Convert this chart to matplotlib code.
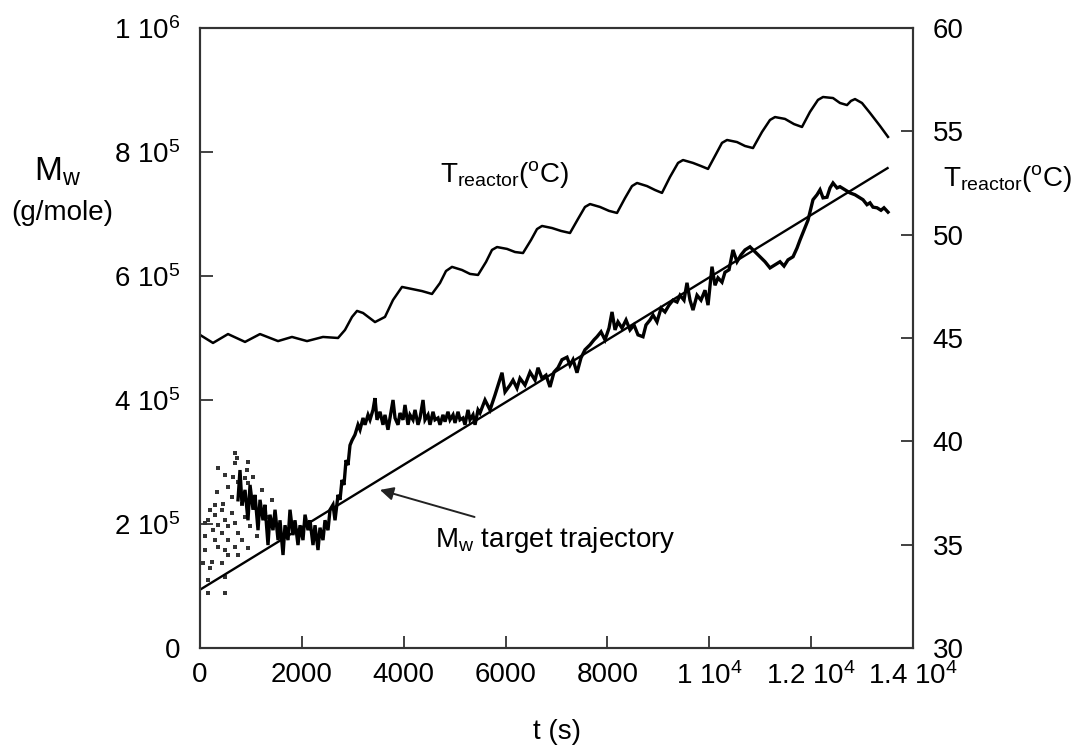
import numpy as np
import matplotlib
matplotlib.use('Agg')
import matplotlib.pyplot as plt

plt.rcParams['font.family'] = ['Liberation Sans Narrow', 'Liberation Sans', 'DejaVu Sans']
plt.rcParams['mathtext.default'] = 'regular'

#Reactor temperature (right axis), t in s and T in degC
temp_t = [0, 255, 550, 884, 1178, 1532, 1806, 2101, 2415, 2710, 2847, 2985, 3083, 3201, 3436,
          3632, 3790, 3966, 4163, 4359, 4555, 4712, 4830, 4948, 5144, 5301, 5459,
          5616, 5733, 5832, 6028, 6185, 6342, 6499, 6617, 6715, 6912, 7088, 7265,
          7422, 7559, 7658, 7854, 8031, 8188, 8345, 8482, 8581, 8777, 8934, 9071,
          9228, 9386, 9484, 9680, 9837, 9975, 10132, 10249, 10348, 10544, 10701, 10858,
          11035, 11192, 11290, 11486, 11663, 11820, 11977, 12134, 12233, 12429, 12566, 12704,
          12782, 12861, 12998, 13155, 13352, 13509]
temp_c = [45.15, 44.76, 45.19, 44.81, 45.19, 44.85, 45.05, 44.85, 45.05, 45.00, 45.39, 46.02, 46.31, 46.21, 45.77,
          46.02, 46.84, 47.47, 47.37, 47.27, 47.13, 47.66, 48.24, 48.44, 48.29, 48.10, 48.05,
          48.68, 49.26, 49.40, 49.31, 49.16, 49.11, 49.74, 50.27, 50.42, 50.32, 50.18, 50.08,
          50.76, 51.34, 51.48, 51.34, 51.15, 51.05, 51.77, 52.35, 52.50, 52.35, 52.16, 52.02,
          52.79, 53.47, 53.61, 53.47, 53.32, 53.18, 53.90, 54.44, 54.58, 54.48, 54.29, 54.19,
          54.97, 55.55, 55.69, 55.60, 55.35, 55.21, 55.94, 56.52, 56.66, 56.61, 56.37, 56.27,
          56.47, 56.56, 56.37, 55.89, 55.26, 54.73]

#Target Mw trajectory (straight line)
target_t = [0, 13500]
target_mw = [0.94e5, 7.74e5]

#Measured Mw (units of 1e5 g/mole)
mw_t = [746, 785, 825, 884, 942, 982, 1041, 1080, 1139, 1178, 1237, 1276, 1335, 1374, 1433, 1473,
        1532, 1571, 1630, 1669, 1728, 1767, 1826, 1865, 1924, 1964, 2022, 2062, 2121, 2160,
        2219, 2258, 2317, 2356, 2415, 2454, 2513, 2553,
        2611, 2651, 2710, 2749, 2788, 2827, 2867, 2906, 2945, 2985, 3043, 3102, 3142, 3201,
        3240, 3299, 3338, 3397, 3436, 3475, 3534, 3593, 3632, 3691, 3731, 3790, 3829, 3888,
        3927, 3986, 4025, 4084, 4123, 4182, 4222, 4280, 4320, 4379, 4418, 4477, 4516, 4575,
        4614, 4673, 4712, 4771, 4811, 4869, 4909, 4968, 5007, 5066, 5105, 5164, 5203, 5262,
        5301, 5360, 5400, 5459, 5498,
        5596, 5694, 5792, 5930, 5989, 6087, 6146, 6224, 6283, 6381, 6480, 6578, 6637, 6715,
        6794, 6872, 6951, 7029, 7108, 7206, 7265, 7324, 7402, 7481, 7559, 7658, 7736, 7795,
        7874, 7952, 8031, 8090, 8149, 8207, 8286, 8365, 8443, 8522, 8600, 8698, 8757, 8836,
        8895, 8973, 9052, 9130, 9209, 9287, 9366, 9425, 9503, 9562, 9621, 9680, 9759, 9837,
        9916, 9975, 10053, 10112, 10171, 10249, 10308, 10387, 10465, 10544, 10623, 10701, 10799, 10897,
        10996, 11094, 11192, 11290, 11388, 11467, 11545, 11644, 11722, 11781, 11860, 11938, 11997, 12036,
        12115, 12174, 12233, 12311, 12370, 12429, 12508, 12566, 12665, 12763, 12861, 12959, 13018, 13096,
        13155, 13214, 13293, 13371, 13430, 13509]
mw_val = [2.39, 2.87, 2.31, 2.55, 2.06, 2.63, 2.23, 2.47, 1.90, 2.39, 2.06, 2.31, 1.66, 2.15, 1.90, 2.23,
          1.74, 2.06, 1.50, 1.98, 1.74, 2.23, 1.82, 2.06, 1.66, 1.98, 1.74, 2.15, 1.90, 2.06,
          1.66, 1.98, 1.58, 1.94, 1.74, 2.06, 1.90, 2.23,
          2.31, 2.06, 2.47, 2.39, 2.71, 2.63, 3.03, 2.95, 3.27, 3.35, 3.44, 3.60, 3.52, 3.71,
          3.60, 3.76, 3.68, 3.84, 4.03, 3.68, 3.81, 3.60, 3.76, 3.52, 3.71, 4.00, 3.71, 3.60,
          3.79, 3.68, 3.92, 3.60, 3.76, 3.68, 3.84, 3.60, 3.71, 4.00, 3.68, 3.76, 3.60, 3.81,
          3.68, 3.71, 3.60, 3.76, 3.65, 3.81, 3.68, 3.76, 3.63, 3.81, 3.68, 3.71, 3.60, 3.84,
          3.68, 3.76, 3.60, 3.84, 3.79,
          4.00, 3.84, 4.08, 4.44, 4.13, 4.24, 4.32, 4.19, 4.35, 4.24, 4.45, 4.32, 4.52, 4.35,
          4.40, 4.21, 4.45, 4.52, 4.65, 4.69, 4.56, 4.65, 4.44, 4.68, 4.81, 4.89, 4.97, 5.02,
          5.10, 4.97, 5.16, 5.42, 5.13, 5.26, 5.16, 5.29, 5.13, 5.21, 5.05, 5.02, 5.21, 5.29,
          5.37, 5.26, 5.48, 5.42, 5.53, 5.61, 5.58, 5.69, 5.61, 5.89, 5.61, 5.45, 5.69, 5.61,
          5.77, 5.53, 6.15, 5.85, 5.97, 5.90, 6.06, 6.10, 6.42, 6.23, 6.34, 6.42, 6.47, 6.39,
          6.31, 6.23, 6.13, 6.18, 6.23, 6.16, 6.26, 6.31, 6.45, 6.58, 6.74, 6.90, 7.10, 7.23,
          7.31, 7.39, 7.26, 7.27, 7.42, 7.50, 7.42, 7.44, 7.39, 7.34, 7.31, 7.26, 7.23, 7.15,
          7.18, 7.11, 7.10, 7.06, 7.10, 7.03]

#Early scattered Mw samples (units of 1e5 g/mole)
dots_t = [687, 720, 687, 948, 917, 359, 491, 654, 752, 884, 948, 1047, 328, 556, 622, 196, 163, 295,
          426, 359, 491, 261, 426, 556, 687, 556, 295, 359, 491, 687, 819, 98, 65, 230, 426, 196,
          491, 163, 491, 819, 884, 752, 622, 458, 295, 98, 556, 752, 948, 1113, 1211, 1276, 1341,
          1408, 1145, 982, 98, 163]
dots_val = [3.15, 3.06, 2.98, 3.00, 2.87, 2.90, 2.79, 2.76, 2.68, 2.74, 2.66, 2.76, 2.52, 2.60, 2.44, 2.23, 2.06, 2.15,
            2.23, 1.98, 2.06, 1.90, 1.85, 1.96, 2.01, 1.74, 1.74, 1.63, 1.58, 1.63, 1.74, 1.80, 1.37, 1.39, 1.37, 1.29,
            1.15, 0.88, 0.88, 2.33, 2.12, 1.85, 2.17, 2.33, 2.31, 1.58, 1.50, 1.50, 1.61, 1.80, 2.55, 2.28, 2.12,
            2.39, 2.01, 1.96, 2.01, 1.10]

mw_ticks = [0, 2e5, 4e5, 6e5, 8e5, 1e6]
mw_labels = ['0', '2 $10^{5}$', '4 $10^{5}$', '6 $10^{5}$', '8 $10^{5}$', '1 $10^{6}$']
t_ticks = [0, 2000, 4000, 6000, 8000, 10000, 12000, 14000]
t_labels = ['0', '2000', '4000', '6000', '8000', '1 $10^{4}$', '1.2 $10^{4}$', '1.4 $10^{4}$']
temp_ticks = [30, 35, 40, 45, 50, 55, 60]

fig = plt.figure(figsize=(10.73, 7.52), dpi=100)
ax = fig.add_axes([0.1864, 0.1383, 0.6645, 0.8245])
ax2 = ax.twinx()

spine_col = '#333333'
fs = 20

ax.scatter(dots_t, np.array(dots_val) * 1e5, s=6, marker='s', c='#333333', linewidths=0)
ax.plot(mw_t, np.array(mw_val) * 1e5, color='black', lw=2.4, solid_joinstyle='miter')
ax.plot(target_t, target_mw, color='black', lw=1.7)
ax2.plot(temp_t, temp_c, color='black', lw=1.8)

ax.set_xlim(0, 14000)
ax.set_ylim(0, 1e6)
ax2.set_ylim(30, 60)

ax.set_xticks(t_ticks)
ax.set_xticklabels(t_labels)
ax.set_yticks(mw_ticks)
ax.set_yticklabels(mw_labels)
ax2.set_yticks(temp_ticks)

ax.tick_params(axis='both', direction='in', length=9, width=1.3, color=spine_col, labelsize=fs)
ax.tick_params(axis='y', pad=14)
ax.tick_params(axis='x', pad=10)
ax2.tick_params(axis='y', direction='in', length=9, width=1.3, color=spine_col, labelsize=fs, pad=14)
for a in (ax, ax2):
    for s in a.spines.values():
        s.set_color(spine_col)
        s.set_linewidth(1.5)

ax.set_xlabel('t (s)', fontsize=fs, labelpad=21)

#axis titles drawn as free text like in the original figure
fig.text(58 / 1073, 1 - 172 / 752, '$M_{w}$', fontsize=24, ha='center', va='center')
fig.text(62 / 1073, 1 - 213 / 752, '(g/mole)', fontsize=fs, ha='center', va='center')
fig.text(943 / 1073, 1 - 178 / 752, 'T$_{reactor}$($^{o}$C)', fontsize=fs, ha='left', va='center')

ax.text(4712, 7.63e5, 'T$_{reactor}$($^{o}$C)', fontsize=fs, ha='left', va='center')
ax.annotate('M$_{w}$ target trajectory', xy=(3534, 2.55e5), xytext=(4614, 1.74e5),
            fontsize=fs, ha='left', va='center',
            arrowprops=dict(arrowstyle='-|>', color='#222222', lw=1.4, mutation_scale=20,
                            shrinkA=14, shrinkB=0))

fig.savefig('out.png', dpi=100)
